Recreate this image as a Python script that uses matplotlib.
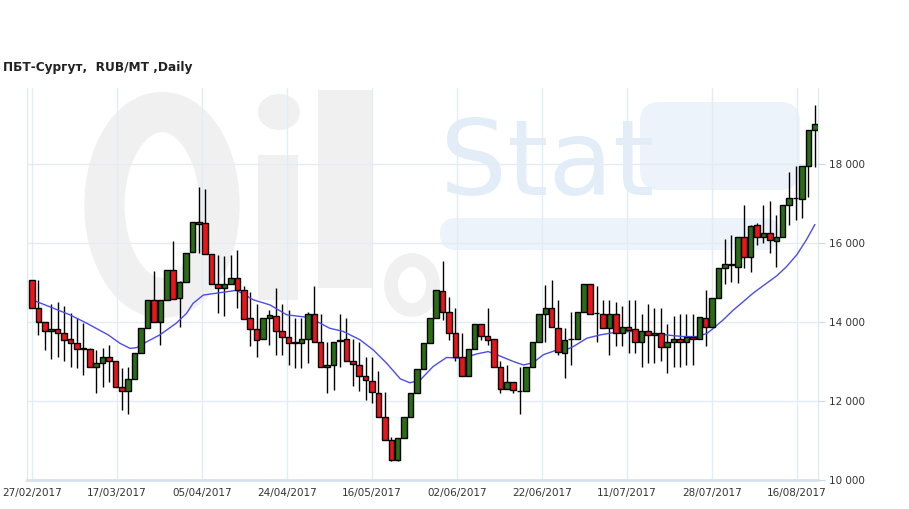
import matplotlib
matplotlib.use('Agg')
import matplotlib.pyplot as plt
from matplotlib.patches import Ellipse, Rectangle, FancyBboxPatch
import numpy as np

# daily candles
opens = [15060, 14350, 13990, 13770, 13810, 13710, 13560, 13460, 13330, 13310,
         12850, 12950, 13110, 13000, 12350, 12250, 12550, 13210, 13840, 14560,
         13990, 14560, 15320, 14600, 15020, 15760, 16540, 16500, 15720, 14950,
         14850, 14950, 15110, 14810, 14090, 13820, 13560, 14090, 14150, 13760,
         13610, 13480, 13460, 13560, 14190, 13500, 12850, 12910, 13520, 13560,
         13000, 12910, 12640, 12500, 12190, 11600, 11000, 10510, 11060, 11600,
         12190, 12800, 13460, 14090, 14790, 14250, 13710, 13110, 12640, 13310,
         13950, 13650, 13560, 12850, 12300, 12490, 12260, 12260, 12870, 13500,
         14200, 14350, 13840, 13210, 13560, 13560, 14250, 14960, 14220, 14200,
         13840, 14200, 13730, 13880, 13810, 13500, 13760, 13670, 13710, 13360,
         13500, 13560, 13500, 13610, 13560, 14090, 13880, 14600, 15360, 15470,
         15400, 16140, 15650, 16450, 16140, 16250, 16050, 16150, 16950, 17130,
         17110, 17950, 18860]
highs = [15060, 15060, 13990, 14450, 14510, 14410, 14220, 14090, 13970, 13330,
         13290, 13330, 13420, 13000, 12830, 12870, 13210, 13840, 14560, 15300,
         14560, 15320, 16050, 15030, 15740, 16540, 17410, 17360, 15720, 15700,
         15660, 15700, 15820, 14900, 14770, 14460, 14090, 14310, 14850, 14460,
         14310, 14090, 14090, 14250, 14910, 14190, 13500, 13500, 14190, 14100,
         13570, 13500, 13110, 13110, 12760, 12220, 11100, 11060, 11600, 12190,
         12800, 13460, 14090, 14810, 15530, 14640, 14350, 13710, 13310, 13950,
         13950, 14350, 13560, 13000, 12910, 12490, 12850, 12870, 13500, 14200,
         14930, 15060, 14560, 13840, 14260, 14250, 14960, 14960, 14900, 14560,
         14560, 14500, 14400, 14560, 14560, 14200, 14460, 14350, 14360, 13950,
         14140, 14200, 14200, 14200, 14120, 14810, 14600, 15360, 16100, 16200,
         16140, 16960, 16450, 16500, 16960, 17050, 16700, 16950, 17800, 17950,
         17950, 18860, 19500]
lows = [14350, 13670, 13290, 13060, 13120, 13000, 12870, 12830, 12660, 12850,
        12210, 12360, 12470, 12350, 11770, 11660, 12550, 13210, 13840, 13990,
        13420, 14560, 14580, 13880, 15020, 15760, 15740, 15720, 14950, 14220,
        14140, 14950, 14360, 14070, 13390, 13110, 13560, 13420, 13170, 13170,
        12910, 12830, 12830, 12970, 13500, 12850, 12210, 12270, 12860, 13000,
        12390, 12260, 12030, 11950, 11600, 11010, 10470, 10470, 11060, 11600,
        12190, 12800, 13460, 14090, 14050, 13550, 13000, 12620, 12640, 13310,
        13550, 13420, 12850, 12210, 12300, 12210, 11660, 12260, 12870, 13500,
        13500, 13870, 13170, 12570, 12920, 13560, 14250, 14200, 13500, 13840,
        13170, 13380, 13380, 13210, 13210, 12870, 12950, 12970, 13000, 12700,
        12870, 12870, 12910, 12910, 13560, 13390, 13880, 14600, 14950, 15020,
        14980, 15360, 15270, 15950, 16000, 15740, 15400, 16150, 16460, 16570,
        16630, 17170, 17920]
closes = [14350, 13990, 13760, 13810, 13710, 13550, 13460, 13320, 13310, 12850,
          12950, 13120, 13000, 12350, 12250, 12550, 13210, 13840, 14560, 13990,
          14560, 15320, 14580, 15020, 15740, 16540, 16480, 15720, 14950, 14850,
          14950, 15110, 14810, 14070, 13820, 13550, 14090, 14170, 13760, 13610,
          13460, 13460, 13560, 14190, 13500, 12850, 12910, 13500, 13540, 13000,
          12930, 12620, 12520, 12220, 11600, 11010, 10510, 11060, 11600, 12190,
          12800, 13460, 14090, 14810, 14250, 13710, 13120, 12640, 13310, 13950,
          13650, 13550, 12850, 12300, 12490, 12280, 12260, 12870, 13500, 14200,
          14350, 13870, 13250, 13550, 13560, 14250, 14960, 14200, 14220, 13840,
          14200, 13730, 13880, 13800, 13500, 13760, 13670, 13710, 13360, 13500,
          13560, 13500, 13630, 13560, 14120, 13880, 14600, 15360, 15470, 15430,
          16140, 15640, 16440, 16140, 16260, 16080, 16160, 16950, 17130, 17130,
          17950, 18860, 19010]

# moving average line (candle index, value)
ma_x = [0, 3.3, 5.9, 8.5, 11.9, 13.7, 15.3, 16.3, 17.9, 19.9, 22.5, 24.1, 25.1,
        26.7, 29.3, 31.9, 34.5, 37.1, 39.7, 42.8, 44.9, 46.4, 48.5, 51.1, 53.2,
        55.3, 57.4, 58.9, 60.5, 62.5, 64.6, 67.2, 69.3, 71.1, 72.9, 75, 76.6,
        78.1, 79.7, 81.8, 83.3, 84.4, 86.5, 88.5, 90.6, 93.7, 96.3, 98.9, 101.5,
        103.6, 105.2, 106.2, 107.7, 109.3, 110.9, 112.4, 114.5, 116.1, 117.6,
        119.2, 120.7, 122]
ma_y = [14560, 14350, 14180, 13970, 13670, 13460, 13330, 13350, 13500, 13670,
        13970, 14220, 14470, 14680, 14740, 14800, 14560, 14430, 14180, 14120,
        13970, 13840, 13760, 13550, 13290, 12950, 12560, 12460, 12530, 12870,
        13100, 13080, 13190, 13250, 13140, 13000, 12910, 12970, 13170, 13290,
        13300, 13380, 13590, 13670, 13730, 13760, 13710, 13670, 13630, 13630,
        13710, 13840, 14050, 14300, 14520, 14730, 14980, 15170, 15400, 15700,
        16080, 16460]

date_labels = ['27/02/2017', '17/03/2017', '05/04/2017', '24/04/2017', '16/05/2017',
               '02/06/2017', '22/06/2017', '11/07/2017', '28/07/2017', '16/08/2017']
y_ticks = [10000, 12000, 14000, 16000, 18000]

W, H = 909, 509
fig = plt.figure(figsize=(W / 100, H / 100), dpi=100)


def px(x, y):
    # pixel position (from top-left) -> inches for dpi_scale_trans
    return (x / 100, (H - y) / 100)


tr = fig.dpi_scale_trans
# faint "OilStat" watermark behind the chart
wm_gray = '#f0f0f0'
wm_blue = '#edf3fa'
fig.add_artist(Ellipse(px(162, 205), 1.15, 1.86, fill=False, ec=wm_gray, lw=29,
                       transform=tr, zorder=-2))
fig.add_artist(Rectangle(px(258, 300), 0.40, 1.45, fc=wm_gray, ec='none',
                         transform=tr, zorder=-2))
fig.add_artist(Ellipse(px(279, 112), 0.42, 0.36, fc=wm_gray, ec='none',
                       transform=tr, zorder=-2))
fig.add_artist(Rectangle(px(318, 288), 0.55, 1.98, fc=wm_gray, ec='none',
                         transform=tr, zorder=-2))
fig.add_artist(Ellipse(px(412, 285), 0.42, 0.5, fill=False, ec=wm_gray, lw=10,
                       transform=tr, zorder=-2))
fig.add_artist(FancyBboxPatch(px(440, 250), 3.4, 0.32, boxstyle='round,pad=0,rounding_size=0.16',
                              fc=wm_blue, ec='none', transform=tr, zorder=-2))
fig.add_artist(FancyBboxPatch(px(640, 190), 1.6, 0.88, boxstyle='round,pad=0,rounding_size=0.2',
                              fc=wm_blue, ec='none', transform=tr, zorder=-2))
fig.text(440 / W, 1 - 195 / H, 'Stat', fontsize=76, color='#e3edf8',
         ha='left', va='baseline', zorder=-1)

ax = fig.add_axes([27 / W, 1 - 480 / H, (818 - 27) / W, (480 - 88) / H])
ax.set_facecolor('none')

x = np.arange(len(opens))
o = np.array(opens)
c = np.array(closes)
colors = np.where(c > o, '#2a6d14', np.where(c < o, '#e9151a', 'black'))

ax.vlines(x, lows, highs, color='black', lw=1, zorder=2)
ax.plot(ma_x, ma_y, color='#4c4ce8', lw=1, zorder=2.5)
ax.bar(x, c - o, bottom=o, width=0.86, color=colors, edgecolor='black',
       linewidth=1, zorder=3)

ax.set_xlim(-0.78, 122.5)
ax.set_ylim(10000, 19920)

tick_pos = np.arange(len(date_labels)) * 13.25
ax.set_xticks(tick_pos)
ax.set_xticklabels(date_labels)
ax.set_yticks(y_ticks)
ax.set_yticklabels([f'{v:,}'.replace(',', ' ') for v in y_ticks])
ax.yaxis.tick_right()

ax.grid(True, color='#e3ecf5', lw=1, zorder=0)
ax.set_axisbelow(True)
for s in ['left', 'right']:
    ax.spines[s].set_color('#dce6f0')
ax.spines['bottom'].set_color('#d6e2ed')
ax.spines['bottom'].set_linewidth(2)
ax.spines['top'].set_visible(False)

ax.tick_params(axis='y', length=5, color='#ccd8e4', labelsize=7.5,
               labelcolor='#333333', pad=3)
ax.tick_params(axis='x', length=0, labelsize=7.5, labelcolor='#333333', pad=6)

fig.text(3 / W, 1 - 68 / H, 'ПБТ-Сургут,  RUB/MT ,Daily', fontsize=8.7,
         fontweight='bold', color='#222222', ha='left', va='center')

fig.savefig('out.png', dpi=100)
